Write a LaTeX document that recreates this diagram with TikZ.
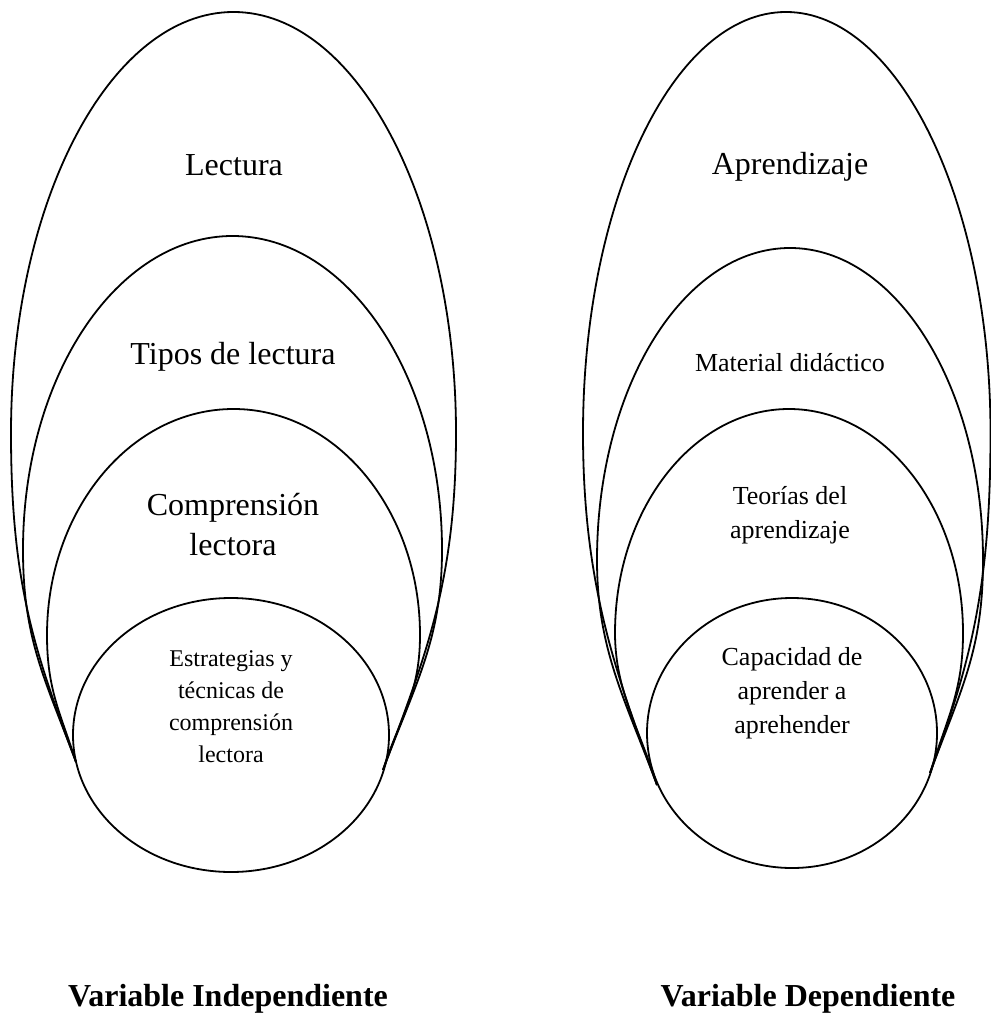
\documentclass[tikz,border=0pt]{standalone}
\usepackage{fontspec}
\setmainfont{Liberation Serif}
\usepackage{tikz}
\tikzstyle{ringline} = [draw, line width=0.9pt]
\tikzstyle{bigtext} = [align=center, font=\fontsize{16}{20}\selectfont]
\tikzstyle{midtext} = [align=center, font=\fontsize{13}{17}\selectfont]
\tikzstyle{smalltext} = [align=center, font=\fontsize{12}{16}\selectfont]
\tikzstyle{vartext} = [anchor=base, font=\fontsize{16}{19}\selectfont\bfseries]

\begin{document}
\begin{tikzpicture}[x=0.5pt, y=-0.5pt]
\useasboundingbox (0,0) rectangle (990,1015);
% left group
\path [ringline] (76,762) .. controls (34,650) and (11,583) .. (11,433)
  .. controls (11,200.5) and (110.6,12) .. (233.5,12)
  .. controls (356.4,12) and (456,200.5) .. (456,433)
  .. controls (456,583) and (425,657) .. (383,770);
\path [ringline] (76,762) .. controls (45.5,680) and (23,640) .. (23,550)
  .. controls (23,376.6) and (116.8,236) .. (232.5,236)
  .. controls (348.2,236) and (442,376.6) .. (442,550)
  .. controls (442,640) and (414.5,685) .. (383,770);
\path [ringline] (76,762) .. controls (60.5,713) and (47,690) .. (47,635)
  .. controls (47,510.2) and (130.5,409) .. (233.5,409)
  .. controls (336.5,409) and (420,510.2) .. (420,635)
  .. controls (420,695) and (399.5,718) .. (383,770);
\path [ringline] (231,735) ellipse [x radius=158, y radius=137];
\node [bigtext] (lectura) at (234,165) {Lectura};
\node [bigtext] (tipos) at (233,357) {Tipos de lectura};
\node [bigtext] (comprension) at (233,525) {Comprensión\\lectora};
\node [smalltext] (estrategias) at (231,707) {Estrategias y\\técnicas de\\comprensión\\lectora};
% right group
\path [ringline] (657,785) .. controls (615,672) and (583,583) .. (583,433)
  .. controls (583,200.5) and (674,12) .. (786,12)
  .. controls (898,12) and (990.5,200.5) .. (990.5,433)
  .. controls (990.5,583) and (972,660) .. (930,773);
\path [ringline] (657,785) .. controls (625.5,700) and (597,650) .. (597,560)
  .. controls (597,387.7) and (683.4,248) .. (790,248)
  .. controls (896.6,248) and (983,387.7) .. (983,560)
  .. controls (983,650) and (961.5,688) .. (930,773);
\path [ringline] (657,785) .. controls (639,728) and (615,690) .. (615,633)
  .. controls (615,509.3) and (693,409) .. (789,409)
  .. controls (885,409) and (963,509.3) .. (963,633)
  .. controls (963,690) and (948,716) .. (930,773);
\path [ringline] (792,733) ellipse [x radius=145, y radius=135];
\node [bigtext] (aprendizaje) at (790,167) {Aprendizaje};
\node [midtext] (material) at (790,363) {Material didáctico};
\node [midtext] (teorias) at (790,515) {Teorías del\\aprendizaje};
\node [midtext] (capacidad) at (792,693) {Capacidad de\\aprender a\\aprehender};
% captions
\node [vartext] (varind) at (228,1006) {Variable Independiente};
\node [vartext] (vardep) at (808,1006) {Variable Dependiente};
\end{tikzpicture}
\end{document}
